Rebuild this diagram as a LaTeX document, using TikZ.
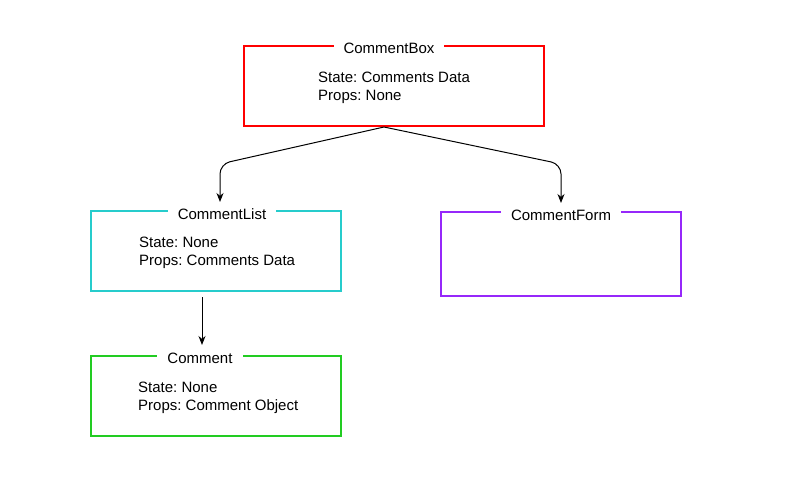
\documentclass[tikz,border=0pt]{standalone}
\usepackage{fontspec}
\setmainfont{Liberation Sans}
\usepackage{xcolor}
\usetikzlibrary{positioning, arrows.meta}
\definecolor{boxcolor}{RGB}{255, 0, 0}
\definecolor{listcolor}{RGB}{38, 204, 204}
\definecolor{formcolor}{RGB}{150, 40, 250}
\definecolor{commentcolor}{RGB}{34, 204, 34}
\frenchspacing

\begin{document}
\begin{tikzpicture}[
	x=1pt, y=-1pt,
	font=\fontsize{15}{18}\selectfont,
	comp/.style={
		rectangle,
		draw,
		line width=2pt,
		inner sep=0pt,
		minimum width=250pt,
		minimum height=80pt
	},
	comptitle/.style={
		fill=white,
		inner xsep=10pt,
		inner ysep=1pt,
		anchor=base
	},
	info/.style={
		align=left,
		inner sep=0pt,
		anchor=north west
	},
	conn/.style={
		-{Stealth[length=9pt, width=7pt]},
		line width=1pt,
		rounded corners=10pt
	}
	]
	\useasboundingbox (0,0) rectangle (802,495);
	
	\node[comp, draw=boxcolor, minimum width=300pt] (box) at (394,86) {};
	\node[comp, draw=listcolor] (list) at (216,251) {};
	\node[comp, draw=formcolor, minimum width=240pt, minimum height=84pt] (form) at (561,254) {};
	\node[comp, draw=commentcolor] (comment) at (216,396) {};
	
	\node[comptitle] (boxtitle) at (389,53) {CommentBox};
	\node[comptitle] (listtitle) at (222,219) {CommentList};
	\node[comptitle] (formtitle) at (561,220) {CommentForm};
	\node[comptitle] (commenttitle) at (200,363) {Comment};
	
	\node[info] (boxinfo) at (318,72) {State: Comments Data\\Props: None};
	\node[info] (listinfo) at (139,237) {State: None\\Props: Comments Data};
	\node[info] (commentinfo) at (138,382) {State: None\\Props: Comment Object};
	
	\draw[conn] ([xshift=-10pt]box.south) -- (220,164) -- ([shift={(4pt,8pt)}]list.north);
	\draw[conn] ([xshift=-10pt]box.south) -- (561,164) -- ([yshift=8pt]form.north);
	\draw[conn] ([shift={(-14pt,-5pt)}]list.south) -- ([shift={(-14pt,10pt)}]comment.north);
	
\end{tikzpicture}
\end{document}
